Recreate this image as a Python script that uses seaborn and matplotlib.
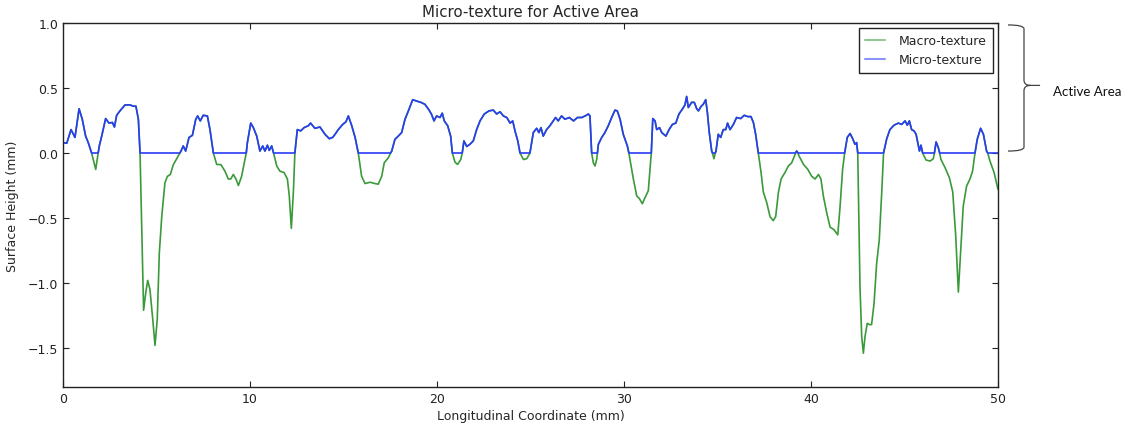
import numpy as np
import pandas as pd
import matplotlib
matplotlib.use("Agg")
import matplotlib.pyplot as plt
import seaborn as sns
from matplotlib.path import Path
from matplotlib.patches import PathPatch
from matplotlib.transforms import blended_transform_factory

# ---- data ----
profile_x = [
    0.0, 0.2, 0.43, 0.64, 0.86, 1.03, 1.21, 1.35, 1.53, 1.75, 1.88, 1.95, 2.07, 2.28, 2.46,
    2.64, 2.75, 2.87, 3.05, 3.32, 3.58, 3.76, 3.9, 4.03, 4.12, 4.2, 4.31, 4.42, 4.53, 4.65,
    4.8, 4.92, 5.04, 5.15, 5.28, 5.45, 5.58, 5.74, 5.9, 6.11, 6.25, 6.31, 6.43, 6.56, 6.74,
    6.92, 7.1, 7.2, 7.34, 7.5, 7.72, 7.86, 8.04, 8.22, 8.45, 8.66, 8.84, 8.97, 9.11, 9.25,
    9.38, 9.55, 9.73, 9.8, 9.86, 10.04, 10.18, 10.36, 10.53, 10.68, 10.8, 10.93, 11.03, 11.16,
    11.26, 11.43, 11.6, 11.82, 12.0, 12.1, 12.21, 12.32, 12.4, 12.53, 12.71, 12.89, 13.12,
    13.24, 13.47, 13.74, 14.01, 14.24, 14.42, 14.55, 14.72, 14.96, 15.13, 15.26, 15.44, 15.62,
    15.79, 15.97, 16.15, 16.42, 16.68, 16.86, 17.04, 17.18, 17.4, 17.52, 17.58, 17.75, 17.93,
    18.11, 18.29, 18.47, 18.7, 18.9, 19.13, 19.35, 19.53, 19.7, 19.84, 19.98, 20.16, 20.28,
    20.39, 20.57, 20.73, 20.82, 20.96, 21.1, 21.27, 21.35, 21.44, 21.59, 21.76, 21.94, 22.12,
    22.3, 22.53, 22.78, 23.01, 23.19, 23.37, 23.55, 23.73, 23.91, 24.05, 24.17, 24.32, 24.44,
    24.62, 24.8, 24.97, 25.15, 25.33, 25.45, 25.56, 25.68, 25.86, 26.04, 26.22, 26.34, 26.48,
    26.66, 26.84, 27.08, 27.3, 27.51, 27.74, 27.92, 28.1, 28.18, 28.27, 28.36, 28.45, 28.54,
    28.58, 28.63, 28.81, 28.98, 29.16, 29.34, 29.52, 29.64, 29.79, 29.96, 30.18, 30.26, 30.32,
    30.5, 30.68, 30.82, 30.98, 31.12, 31.3, 31.39, 31.46, 31.54, 31.66, 31.75, 31.9, 32.02,
    32.24, 32.41, 32.59, 32.77, 32.94, 33.12, 33.26, 33.35, 33.44, 33.62, 33.76, 33.89, 33.98,
    34.12, 34.24, 34.37, 34.46, 34.56, 34.69, 34.73, 34.81, 34.88, 34.92, 35.04, 35.17, 35.31,
    35.44, 35.54, 35.67, 35.85, 36.02, 36.24, 36.43, 36.61, 36.79, 36.92, 37.04, 37.18, 37.33,
    37.45, 37.63, 37.81, 37.98, 38.11, 38.26, 38.4, 38.61, 38.79, 38.97, 39.15, 39.24, 39.3,
    39.36, 39.6, 39.83, 40.04, 40.22, 40.4, 40.53, 40.66, 40.84, 41.02, 41.23, 41.43, 41.55,
    41.69, 41.8, 41.94, 42.09, 42.23, 42.35, 42.44, 42.5, 42.53, 42.62, 42.71, 42.8, 42.89,
    43.01, 43.12, 43.24, 43.37, 43.51, 43.65, 43.78, 43.88, 44.05, 44.22, 44.44, 44.67, 44.85,
    45.03, 45.15, 45.26, 45.38, 45.51, 45.62, 45.71, 45.8, 45.88, 45.97, 46.15, 46.37, 46.54,
    46.6, 46.69, 46.81, 46.88, 46.95, 47.17, 47.4, 47.58, 47.74, 47.88, 48.0, 48.14, 48.32,
    48.5, 48.64, 48.77, 48.89, 49.07, 49.22, 49.39, 49.45, 49.57, 49.79, 50.0,
]
profile_y = [
    0.08, 0.075, 0.18, 0.12, 0.34, 0.26, 0.13, 0.08, 0.0, -0.126, 0.0, 0.06, 0.13, 0.265, 0.23,
    0.235, 0.2, 0.29, 0.325, 0.37, 0.37, 0.36, 0.36, 0.26, 0.0, -0.51, -1.21, -1.08, -0.98, -1.05,
    -1.28, -1.48, -1.28, -0.77, -0.49, -0.23, -0.18, -0.165, -0.09, -0.036, 0.0, 0.015, 0.054, 0.015, 0.12,
    0.136, 0.26, 0.285, 0.247, 0.29, 0.285, 0.18, 0.0, -0.088, -0.09, -0.14, -0.2, -0.2, -0.165, -0.2,
    -0.25, -0.18, -0.05, 0.0, 0.08, 0.23, 0.195, 0.13, 0.015, 0.054, 0.015, 0.06, 0.02, 0.054,
    0.0, -0.1, -0.14, -0.15, -0.2, -0.33, -0.58, -0.3, 0.0, 0.18, 0.17, 0.195, 0.21,
    0.23, 0.19, 0.2, 0.144, 0.11, 0.12, 0.144, 0.18, 0.22, 0.24, 0.285, 0.21, 0.12,
    0.0, -0.18, -0.235, -0.225, -0.235, -0.24, -0.18, -0.075, -0.036, 0.0, 0.015, 0.105, 0.13,
    0.157, 0.26, 0.324, 0.41, 0.40, 0.39, 0.375, 0.34, 0.3, 0.247, 0.285, 0.273, 0.306,
    0.247, 0.21, 0.13, 0.0, -0.07, -0.088, -0.05, 0.0, 0.093, 0.05, 0.067, 0.093, 0.18,
    0.247, 0.3, 0.324, 0.33, 0.3, 0.317, 0.285, 0.273, 0.23, 0.247, 0.17, 0.093, 0.0,
    -0.05, -0.044, 0.0, 0.157, 0.19, 0.157, 0.195, 0.13, 0.18, 0.21, 0.247, 0.273, 0.247,
    0.285, 0.26, 0.273, 0.247, 0.273, 0.273, 0.285, 0.3, 0.285, 0.0, -0.075, -0.1, -0.05,
    0.0, 0.067, 0.12, 0.157, 0.21, 0.273, 0.33, 0.324, 0.26, 0.144, 0.054, 0.0, -0.05,
    -0.2, -0.33, -0.35, -0.39, -0.345, -0.29, -0.126, 0.0, 0.265, 0.247, 0.18, 0.195, 0.157,
    0.13, 0.18, 0.22, 0.23, 0.3, 0.337, 0.37, 0.435, 0.35, 0.39, 0.389, 0.34, 0.324,
    0.358, 0.375, 0.41, 0.31, 0.157, 0.015, 0.0, -0.044, 0.0, 0.015, 0.144, 0.12, 0.18,
    0.18, 0.23, 0.18, 0.22, 0.273, 0.265, 0.29, 0.28, 0.28, 0.234, 0.144, 0.0, -0.15,
    -0.3, -0.38, -0.49, -0.52, -0.49, -0.3, -0.2, -0.15, -0.1, -0.075, -0.01, 0.015, 0.0,
    -0.023, -0.088, -0.126, -0.18, -0.2, -0.165, -0.2, -0.33, -0.46, -0.57, -0.59, -0.63, -0.42,
    -0.126, 0.0, 0.12, 0.15, 0.11, 0.067, 0.08, 0.0, -0.25, -1.03, -1.41, -1.54, -1.41,
    -1.31, -1.32, -1.32, -1.16, -0.85, -0.67, -0.31, 0.0, 0.11, 0.18, 0.214, 0.23, 0.22,
    0.247, 0.214, 0.247, 0.18, 0.17, 0.144, 0.08, 0.015, 0.06, 0.0, -0.054, -0.062, -0.044,
    0.0, 0.085, 0.04, 0.0, -0.05, -0.113, -0.19, -0.3, -0.64, -1.07, -0.77, -0.41, -0.255,
    -0.2, -0.14, 0.0, 0.105, 0.19, 0.144, 0.015, 0.0, -0.062, -0.15, -0.28,
]
series_names = ["Macro-texture", "Micro-texture"]
x_ticks = [0, 10, 20, 30, 40, 50]
y_ticks = [-1.5, -1.0, -0.5, 0.0, 0.5, 1.0]

# micro-texture = the part of the profile above the datum
macro = np.array(profile_y)
micro = np.maximum(macro, 0.0)
xs = np.array(profile_x)

df = pd.DataFrame({
    "x": np.concatenate([xs, xs]),
    "y": np.concatenate([macro, micro]),
    "series": [series_names[0]] * len(xs) + [series_names[1]] * len(xs),
})

sns.set_style("ticks")
plt.rcParams["font.family"] = ["DejaVu Sans"]
plt.rcParams["font.size"] = 9

fig = plt.figure(figsize=(11.38, 4.31), dpi=100)
ax = fig.add_axes([63 / 1138, 1 - 388 / 431, 935 / 1138, 364 / 431])

palette = {series_names[0]: "#3a9a3a", series_names[1]: "#2a3cf5"}
sns.lineplot(data=df, x="x", y="y", hue="series", palette=palette,
             estimator=None, sort=False, linewidth=1.2, ax=ax, legend=True)

ax.set_xlim(0, 50)
ax.set_ylim(-1.8, 1.0)
ax.set_xticks(x_ticks)
ax.set_yticks(y_ticks)
ax.set_yticklabels([f"{v:.1f}".replace("-", "\u2212") for v in y_ticks])
ax.tick_params(direction="in", top=True, right=True, length=4, width=0.8,
               colors="#222222", labelsize=9, labelcolor="#222222")
for s in ax.spines.values():
    s.set_visible(True)
    s.set_color("#222222")
    s.set_linewidth(1.0)

ax.set_title("Micro-texture for Active Area", fontsize=10.8, pad=5)
ax.set_xlabel("Longitudinal Coordinate (mm)", fontsize=9, labelpad=3)
ax.set_ylabel("Surface Height (mm)", fontsize=9, labelpad=6)

leg = ax.legend(loc="upper right", frameon=True, fancybox=False, framealpha=1,
                edgecolor="#222222", fontsize=9, borderaxespad=0.4,
                handlelength=1.6, handletextpad=1.1, borderpad=0.5)
leg.get_frame().set_linewidth(1.0)
for h in leg.get_lines():
    h.set_alpha(0.55)
    h.set_linewidth(1.5)

# brace annotation at the right of the axes
tr = blended_transform_factory(ax.transAxes, ax.transData)
xa, xb, xt = 1.0107, 1.0278, 1.045
verts = [
    (xa, 0.985), (xb, 0.985), (xb, 0.955),
    (xb, 0.56),
    (xb, 0.52), (xb + 0.007, 0.52),
    (xt, 0.52),
    (xb + 0.007, 0.52), (xb, 0.52), (xb, 0.48),
    (xb, 0.045),
    (xb, 0.015), (xa, 0.015),
]
codes = [Path.MOVETO, Path.CURVE3, Path.CURVE3,
         Path.LINETO,
         Path.CURVE3, Path.CURVE3,
         Path.LINETO,
         Path.MOVETO, Path.CURVE3, Path.CURVE3,
         Path.LINETO,
         Path.CURVE3, Path.CURVE3]
brace = PathPatch(Path(verts, codes), transform=tr, fill=False,
                  edgecolor="#444444", linewidth=0.9, clip_on=False)
ax.add_patch(brace)
ax.text(1.0588, 0.48, "Active Area", transform=tr, ha="left", va="center",
        fontsize=9.6, family=["Lato", "DejaVu Sans"], color="#111111", clip_on=False)

fig.savefig("out.png", dpi=100)
